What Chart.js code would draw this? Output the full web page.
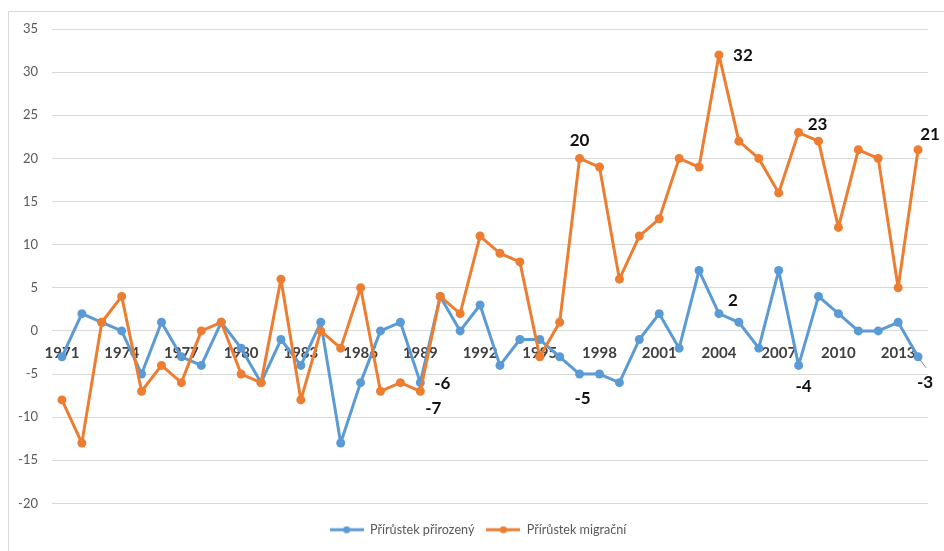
<!DOCTYPE html>
<html lang="cs">
<head>
    <meta charset="UTF-8">
    <title>Přírůstek přirozený a migrační</title>
    <script src="https://cdn.jsdelivr.net/npm/chart.js@4.4.8/dist/chart.umd.min.js"></script>
    <style>
        html, body { margin: 0; padding: 0; background: #fff; overflow: hidden; }
        #frame {
            position: absolute; left: 8px; top: 11px;
            width: 980px; height: 600px;
            border: 1px solid #d9d9d9;
        }
        #wrap { position: absolute; left: 0; top: 0; width: 944px; height: 551px; }
    </style>
</head>
<body>
    <div id="frame"></div>
    <div id="wrap"><canvas id="myChart"></canvas></div>

<script>

    const years = ['1971', '1972', '1973', '1974', '1975', '1976', '1977', '1978', '1979', '1980',
        '1981', '1982', '1983', '1984', '1985', '1986', '1987', '1988', '1989', '1990',
        '1991', '1992', '1993', '1994', '1995', '1996', '1997', '1998', '1999', '2000',
        '2001', '2002', '2003', '2004', '2005', '2006', '2007', '2008', '2009', '2010',
        '2011', '2012', '2013', '2014']

    // only every third year gets a label on the axis
    const shownYears = ['1971', '1974', '1977', '1980', '1983', '1986', '1989', '1992',
        '1995', '1998', '2001', '2004', '2007', '2010', '2013']

    const natural = [-3, 2, 1, 0, -5, 1, -3, -4, 1, -2,
        -6, -1, -4, 1, -13, -6, 0, 1, -6, 4,
        0, 3, -4, -1, -1, -3, -5, -5, -6, -1,
        2, -2, 7, 2, 1, -2, 7, -4, 4, 2,
        0, 0, 1, -3]

    const migration = [-8, -13, 1, 4, -7, -4, -6, 0, 1, -5,
        -6, 6, -8, 0, -2, 5, -7, -6, -7, 4,
        2, 11, 9, 8, -3, 1, 20, 19, 6, 11,
        13, 20, 19, 32, 22, 20, 16, 23, 22, 12,
        21, 20, 5, 21]

    const seriesNames = ['Přírůstek přirozený', 'Přírůstek migrační']
    const seriesColors = ['#5b9bd5', '#ed7d31']

    // which points carry a value label (dataset index + year)
    const labelled = [
        { ds: 1, year: '1989' }, { ds: 0, year: '1989' },
        { ds: 1, year: '1997' }, { ds: 0, year: '1997' },
        { ds: 1, year: '2004' }, { ds: 0, year: '2004' },
        { ds: 1, year: '2008' }, { ds: 0, year: '2008' },
        { ds: 1, year: '2014' }, { ds: 0, year: '2014' },
    ]

    // where each label sits relative to its point
    const labelOffsets = {
        '1-1989': [13, 17], '0-1989': [22, 1],
        '1-1997': [0, -18], '0-1997': [3, 24],
        '1-2004': [24, 1], '0-2004': [14, -13],
        '1-2008': [19, -8], '0-2008': [5, 21],
        '1-2014': [12, -15], '0-2014': [7, 26],
    }

    const legendMark = (color) => {
        const c = document.createElement('canvas')
        c.width = 34
        c.height = 8
        const g = c.getContext('2d')
        g.strokeStyle = color
        g.lineWidth = 3
        g.beginPath()
        g.moveTo(0, 4)
        g.lineTo(34, 4)
        g.stroke()
        g.fillStyle = color
        g.beginPath()
        g.arc(17, 4, 3.5, 0, Math.PI * 2)
        g.fill()
        return c
    }

    const pointLabels = {
        id: 'pointLabels',
        afterDatasetsDraw(chart) {
            const ctx = chart.ctx
            ctx.save()
            ctx.font = 'bold 17px Lato'
            ctx.fillStyle = '#111'
            ctx.textAlign = 'center'
            ctx.textBaseline = 'middle'
            for (const l of labelled) {
                const i = years.indexOf(l.year)
                const pt = chart.getDatasetMeta(l.ds).data[i]
                const value = chart.data.datasets[l.ds].data[i]
                const [dx, dy] = labelOffsets[l.ds + '-' + l.year]
                if (dy > 24) {
                    // small leader line like the one Excel draws
                    ctx.strokeStyle = '#7f7f7f'
                    ctx.lineWidth = 1
                    ctx.beginPath()
                    ctx.moveTo(pt.x + 2, pt.y + 3)
                    ctx.lineTo(pt.x + 8, pt.y + 11)
                    ctx.stroke()
                }
                ctx.fillText(String(value), pt.x + dx, pt.y + dy)
            }
            ctx.restore()
        }
    }

    // the Excel legend sits a little right of the canvas centre and lower
    const legendNudge = {
        id: 'legendNudge',
        afterLayout(chart) {
            chart.legend.left += 6
            chart.legend.right += 6
            chart.legend.top += 8
            chart.legend.bottom += 8
        }
    }

    const makeDataset = (idx, data, order) => ({
        label: seriesNames[idx],
        data: data,
        borderColor: seriesColors[idx],
        backgroundColor: seriesColors[idx],
        borderWidth: 3,
        borderJoinStyle: 'round',
        borderCapStyle: 'round',
        pointRadius: 4.5,
        pointHoverRadius: 4.5,
        pointBorderWidth: 0,
        tension: 0,
        order: order,
    })

    const ctx = document.getElementById('myChart')
    const chart = new Chart(ctx, {
        type: 'line',
        data: {
            labels: years,
            datasets: [
                makeDataset(0, natural, 1),
                makeDataset(1, migration, 0),
            ]
        },
        options: {
            responsive: true,
            maintainAspectRatio: false,
            animation: false,
            layout: { padding: { top: 29, right: 16, left: 16, bottom: 13 } },
            scales: {
                x: {
                    position: { y: 0 },
                    offset: true,
                    z: 1,
                    grid: { display: false, drawTicks: false },
                    border: { display: false },
                    ticks: {
                        autoSkip: false,
                        maxRotation: 0,
                        minRotation: 0,
                        padding: 13,
                        color: '#404040',
                        font: { family: 'Lato', size: 15, weight: 'bold' },
                        callback: (v, i) => shownYears.includes(years[i]) ? years[i] : ''
                    },
                    afterFit: (s) => { s.height = 0 }
                },
                y: {
                    min: -20,
                    max: 35,
                    ticks: {
                        stepSize: 5,
                        padding: 14,
                        color: '#595959',
                        font: { family: 'Lato', size: 13 }
                    },
                    grid: { color: '#d9d9d9', drawTicks: false },
                    border: { display: false },
                    afterFit: (s) => { s.width = 36 }
                }
            },
            plugins: {
                tooltip: { enabled: false },
                legend: {
                    position: 'bottom',
                    labels: {
                        usePointStyle: true,
                        pointStyleWidth: 34,
                        boxHeight: 8,
                        padding: 12,
                        color: '#595959',
                        font: { family: 'Lato', size: 12.6 },
                        generateLabels: (chart) => chart.data.datasets.map((ds, i) => ({
                            text: ds.label,
                            pointStyle: legendMark(seriesColors[i]),
                            fillStyle: seriesColors[i],
                            strokeStyle: seriesColors[i],
                            lineWidth: 0,
                            fontColor: '#595959',
                            datasetIndex: i,
                            hidden: false
                        }))
                    }
                }
            }
        },
        plugins: [pointLabels, legendNudge]
    })

</script>
</body>
</html>
